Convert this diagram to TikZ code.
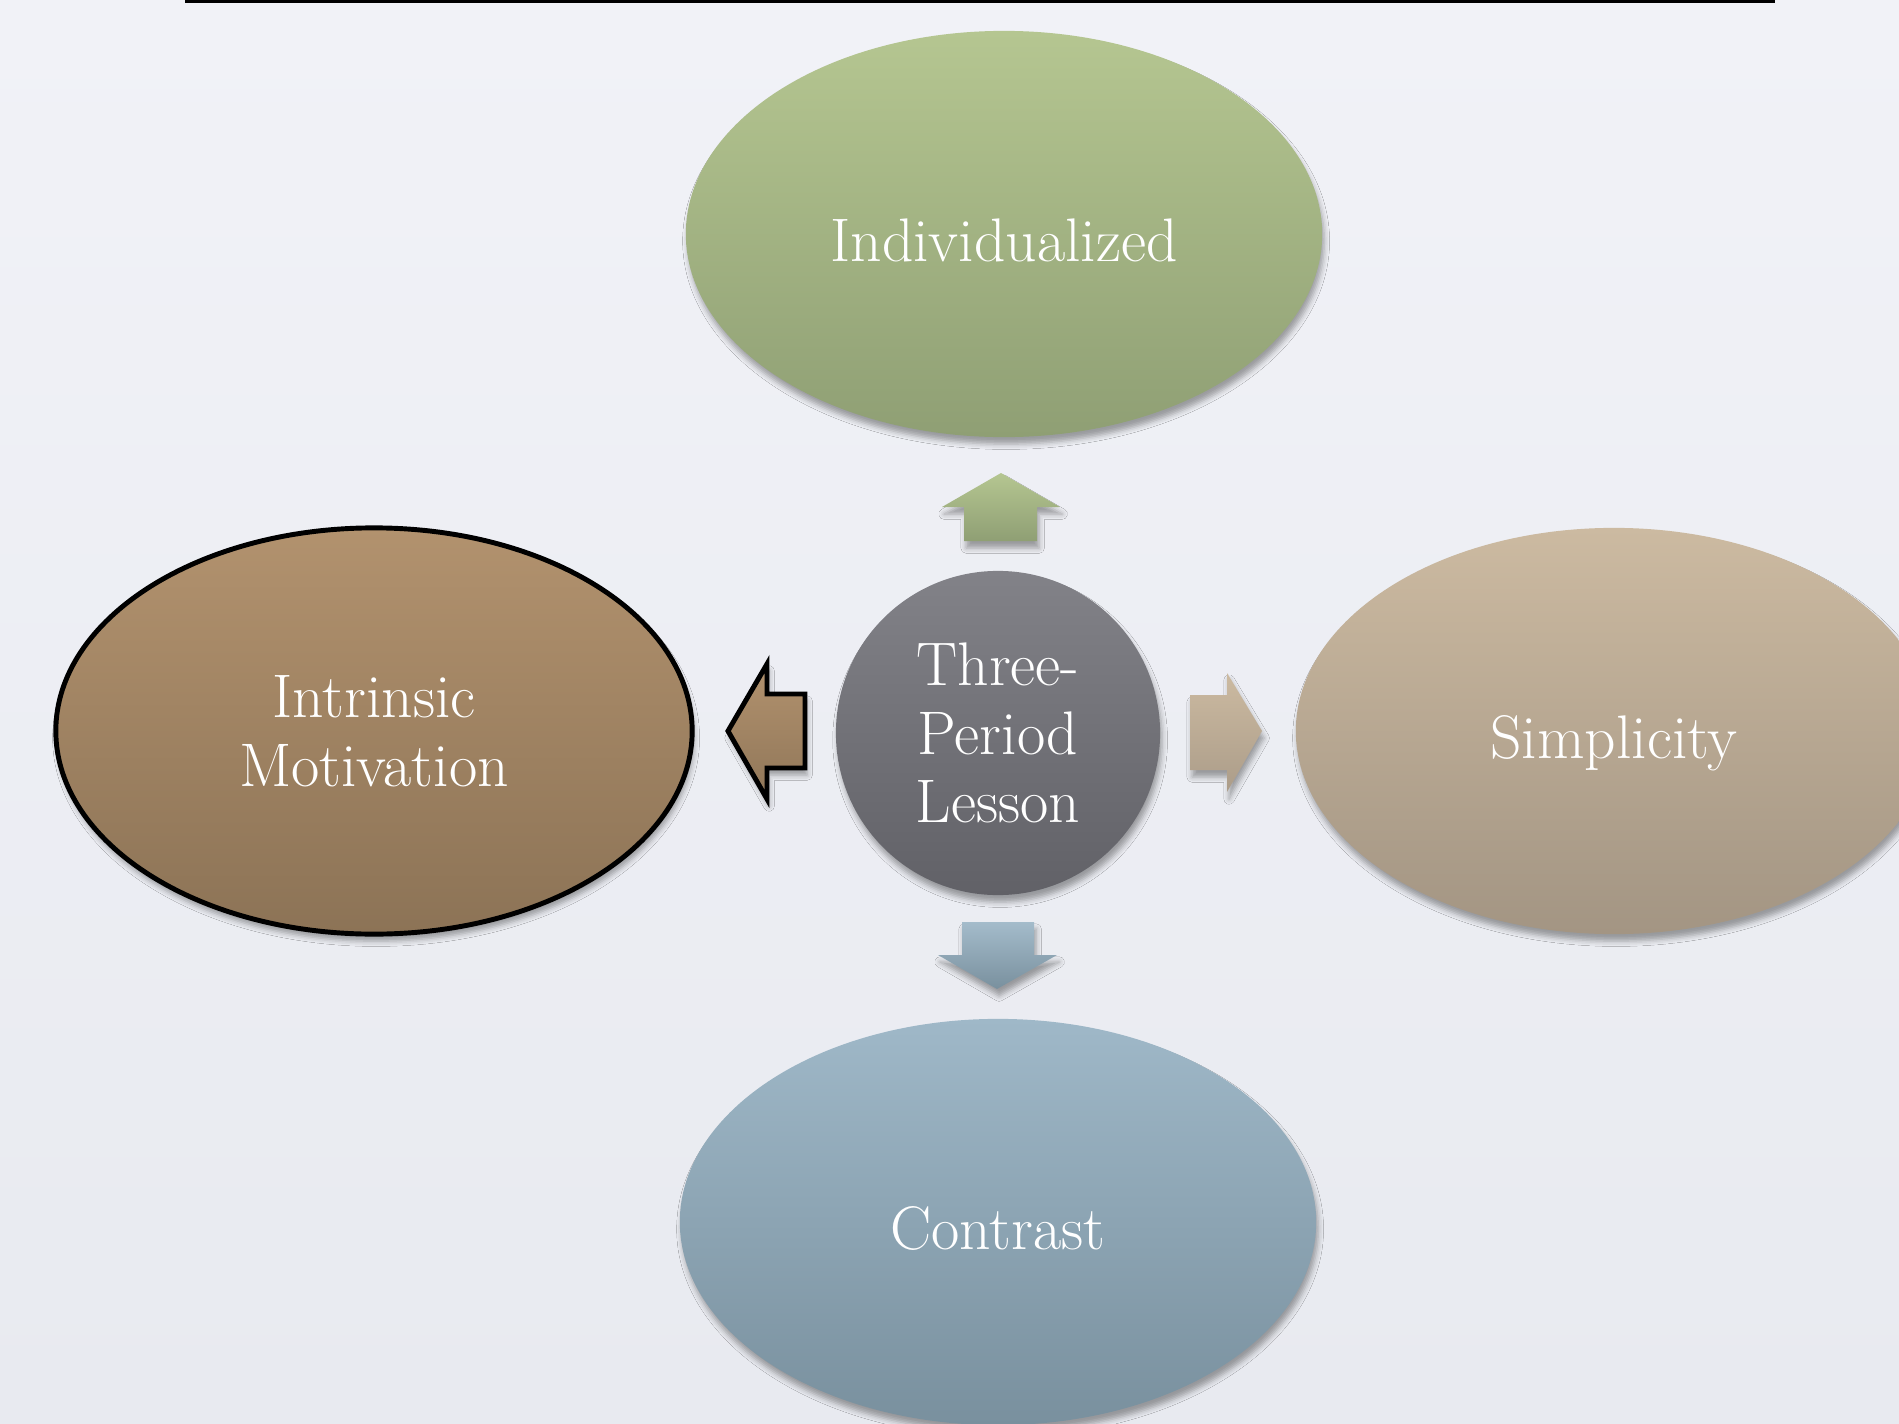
\documentclass[tikz,border=0pt]{standalone}
\usetikzlibrary{shapes.geometric, shadows.blur, positioning}

\definecolor{bgtop}{RGB}{241,242,247}
\definecolor{bgbot}{RGB}{232,234,240}
\definecolor{greentop}{RGB}{181,198,145}
\definecolor{greenbot}{RGB}{143,159,116}
\definecolor{browntop}{RGB}{178,146,110}
\definecolor{brownbot}{RGB}{140,115,86}
\definecolor{tantop}{RGB}{204,186,161}
\definecolor{tanbot}{RGB}{163,149,131}
\definecolor{bluetop}{RGB}{159,184,200}
\definecolor{bluebot}{RGB}{121,144,158}
\definecolor{hubtop}{RGB}{130,130,136}
\definecolor{hubbot}{RGB}{97,97,103}

\tikzset{
  softshadow/.style={blur shadow={shadow xshift=0.6pt, shadow yshift=-2pt, shadow blur radius=1.5pt, shadow opacity=35}},
  label font/.style={font=\fontsize{17.5}{19.5}\selectfont},
  petal/.style={ellipse, minimum width=6.36cm, minimum height=4.06cm, inner sep=0pt, text=white, label font, softshadow},
  oneline/.style={text height=19pt, text depth=3.5pt},
  outlined/.style={draw=black, line width=1.4pt},
  hub/.style={circle, minimum size=3.24cm, inner sep=0pt, text=white, align=center, label font, top color=hubtop, bottom color=hubbot, softshadow},
  blockarrow/.style={softshadow},
}

\begin{document}
\begin{tikzpicture}[x=0.01cm, y=-0.01cm]
  % page and background
  \useasboundingbox (0,0) rectangle (1899,1424);
  \shade[top color=bgtop, bottom color=bgbot] (0,0) rectangle (1899,1424);
  \clip (0,0) rectangle (1899,1424);
  \draw[line width=0.85pt] (185,1.5) -- (1775,1.5);

  % outer ellipses
  \node[petal, oneline, top color=greentop, bottom color=greenbot] (indiv) at (1004,234) {Individualized};
  \node[petal, outlined, align=center, top color=browntop, bottom color=brownbot] (intrinsic) at (374,731) {Intrinsic\\Motivation};
  \node[petal, oneline, top color=tantop, bottom color=tanbot] (simple) at (1614,731) {Simplicity};
  \node[petal, oneline, top color=bluetop, bottom color=bluebot] (contrast) at (998,1222) {Contrast};

  % centre
  \node[hub] (lesson) at (998,733) {Three-\\Period\\Lesson};

  % block arrows
  \shade[blockarrow, top color=greentop, bottom color=greenbot]
    (1001,473) -- (1060,507) -- (1037,507) -- (1037,541) -- (964,541) -- (964,507) -- (942,507) -- cycle;
  \shade[blockarrow, top color=bluetop!95!white, bottom color=bluebot]
    (962,922) -- (1034,922) -- (1034,955) -- (1057,955) -- (997,989) -- (938,955) -- (962,955) -- cycle;
  \shade[blockarrow, outlined, top color=browntop, bottom color=brownbot!90!browntop]
    (728,731) -- (767,664) -- (767,694) -- (805,694) -- (805,768) -- (767,768) -- (767,799) -- cycle;
  \shade[blockarrow, top color=tantop, bottom color=tanbot!80!tantop]
    (1190,695) -- (1227,695) -- (1227,673) -- (1262,731) -- (1227,792) -- (1227,770) -- (1190,770) -- cycle;
\end{tikzpicture}
\end{document}
